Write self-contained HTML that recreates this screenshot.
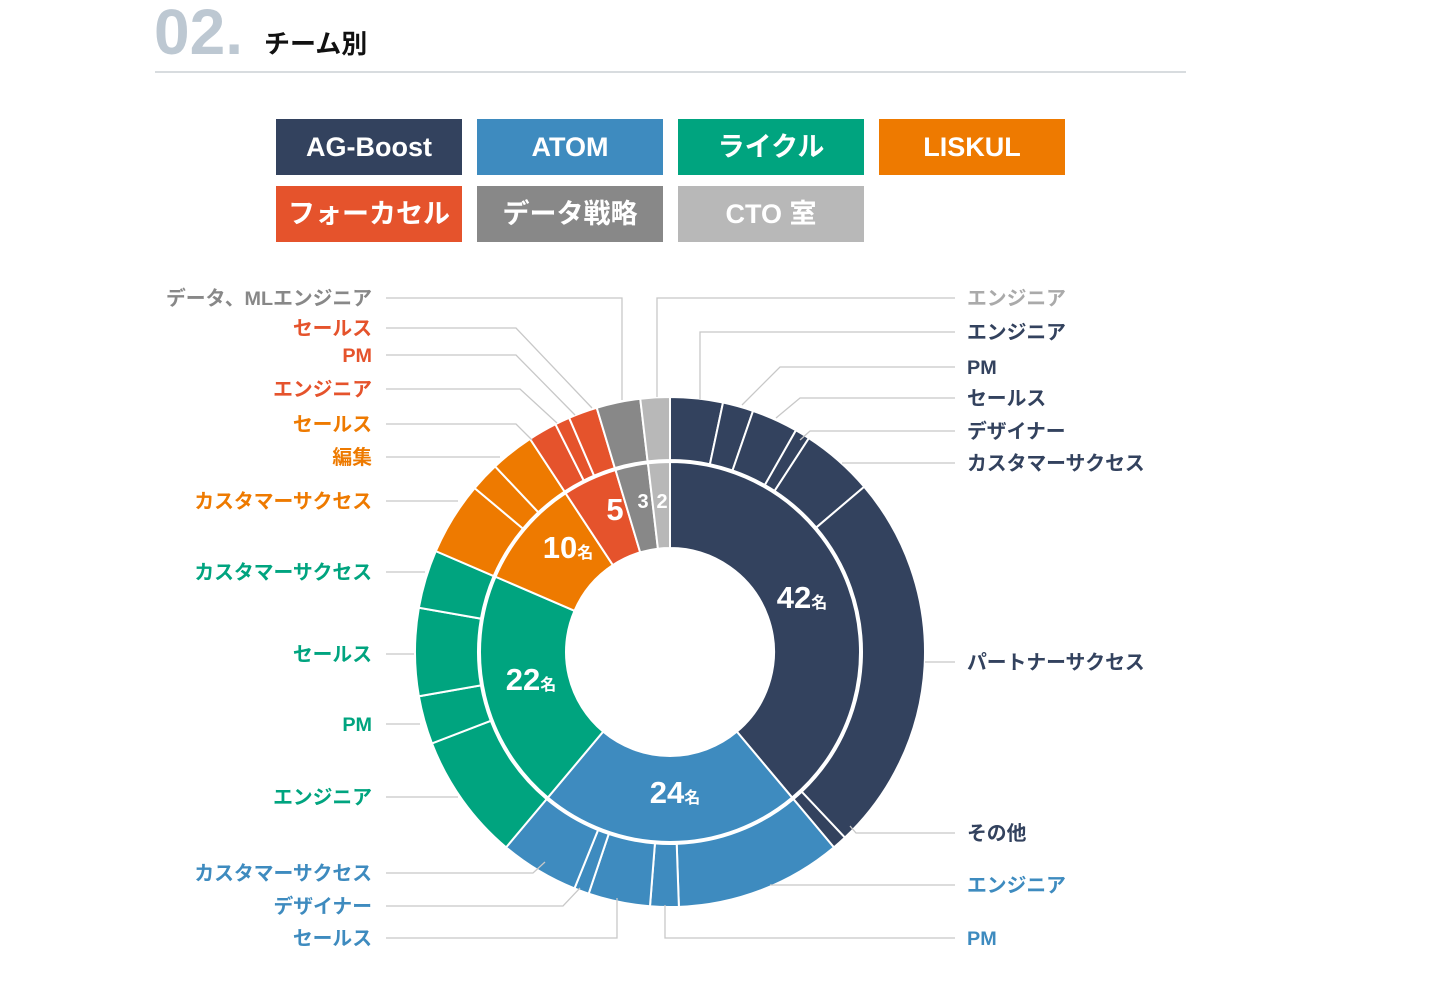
<!DOCTYPE html>
<html><head><meta charset="utf-8"><style>
body{margin:0;width:1440px;height:991px;background:#fff;overflow:hidden;font-family:"Liberation Sans","Noto Sans CJK JP",sans-serif}
.lg{position:absolute;width:186px;height:56px;color:#fff;font-weight:bold;font-size:27px;text-align:center;line-height:56px}
</style></head><body>
<div style="position:absolute;left:154px;top:-3px;font-size:64px;font-weight:bold;color:#bdc8d2;line-height:70px">02.</div>
<div style="position:absolute;left:264px;top:24px;font-size:26px;font-weight:bold;color:#111">チーム別</div>
<div style="position:absolute;left:155px;top:71px;width:1031px;height:2px;background:#d8dcdf"></div>
<div class="lg" style="left:276px;top:119px;background:#33425e">AG-Boost</div>
<div class="lg" style="left:477px;top:119px;background:#3e8bbf">ATOM</div>
<div class="lg" style="left:678px;top:119px;background:#00a47f">ライクル</div>
<div class="lg" style="left:879px;top:119px;background:#ee7a00">LISKUL</div>
<div class="lg" style="left:276px;top:186px;background:#e5532c">フォーカセル</div>
<div class="lg" style="left:477px;top:186px;background:#888888">データ戦略</div>
<div class="lg" style="left:678px;top:186px;background:#b8b8b8">CTO 室</div>
<svg id="s" width="1440" height="991" style="position:absolute;left:0;top:0" font-family="Liberation Sans, Noto Sans CJK JP, sans-serif"></svg>
<script>
var cx=670,cy=652,S=document.getElementById('s'),h='';
function pt(r,a){a=a*Math.PI/180;return [cx+r*Math.sin(a),cy-r*Math.cos(a)];}
function arc(r0,r1,a0,a1,c){var p=pt(r1,a0),q=pt(r1,a1),u=pt(r0,a1),v=pt(r0,a0),l=(a1-a0)>180?1:0;
h+='<path d="M'+p+'A'+r1+','+r1+' 0 '+l+' 1 '+q+'L'+u+'A'+r0+','+r0+' 0 '+l+' 0 '+v+'Z" fill="'+c+'" stroke="#fff" stroke-width="2"/>';}
var C={a:'#33425e',b:'#3e8bbf',g:'#00a47f',o:'#ee7a00',r:'#e5532c',d:'#888888',t:'#b8b8b8'};
var u=360/108;
var inner=[['a',42],['b',24],['g',22],['o',10],['r',5],['d',3],['t',2]],a=0;
inner.forEach(function(s){arc(104,190,a,a+s[1]*u,C[s[0]]);a+=s[1]*u;});
var outer=[['a',0,12],['a',12,19],['a',19,29.6],['a',29.6,33],['a',33,49.6],['a',49.6,136.7],['a',136.7,140],
['b',140,178],['b',178,184.5],['b',184.5,198.6],['b',198.6,202],['b',202,220],
['g',220,249],['g',249,260],['g',260,280],['g',280,293.3],
['o',293.3,310],['o',310,316.7],['o',316.7,326.7],['r',326.7,333.3],['r',333.3,336.7],['r',336.7,343.3],['d',343.3,353.3],['t',353.3,360]];
outer.forEach(function(s){arc(192,255,s[1],s[2],C[s[0]]);});
var L=[
[298,'データ、MLエンジニア','#888','L',[[622,298],[622,400]]],
[328,'セールス',C.r,'L',[[516,328],[592,408]]],
[355,'PM',C.r,'L',[[516,355],[575,415]]],
[389,'エンジニア',C.r,'L',[[520,389],[557,423]]],
[424,'セールス',C.o,'L',[[516,424],[532,440]]],
[457,'編集',C.o,'L',[[500,457]]],
[501,'カスタマーサクセス',C.o,'L',[[458,501]]],
[572,'カスタマーサクセス',C.g,'L',[[425,572]]],
[654,'セールス',C.g,'L',[[414,654]]],
[724,'PM',C.g,'L',[[420,724]]],
[797,'エンジニア',C.g,'L',[[458,797]]],
[873,'カスタマーサクセス',C.b,'L',[[533,873],[545,862]]],
[906,'デザイナー',C.b,'L',[[563,906],[580,888]]],
[938,'セールス',C.b,'L',[[617,938],[617,898]]],
[298,'エンジニア','#aaa','R',[[657,298],[657,397]]],
[332,'エンジニア',C.a,'R',[[700,332],[700,399]]],
[367,'PM',C.a,'R',[[780,367],[742,405]]],
[398,'セールス',C.a,'R',[[800,398],[776,418]]],
[431,'デザイナー',C.a,'R',[[810,431],[800,440]]],
[463,'カスタマーサクセス',C.a,'R',[[842,463]]],
[662,'パートナーサクセス',C.a,'R',[[925,662]]],
[833,'その他',C.a,'R',[[856,833],[850,826]]],
[885,'エンジニア',C.b,'R',[[770,885]]],
[938,'PM',C.b,'R',[[665,938],[665,905]]]];
L.forEach(function(l){var x0=l[3]=='L'?386:955,d='M'+x0+','+l[0];l[4].forEach(function(p){d+='L'+p[0]+','+p[1];});
h+='<path d="'+d+'" fill="none" stroke="#c8c8c8" stroke-width="1.3"/>';
h+='<text x="'+(l[3]=='L'?372:967)+'" y="'+(l[0]+7)+'" font-size="19.8" font-weight="bold" fill="'+l[2]+'" text-anchor="'+(l[3]=='L'?'end':'start')+'">'+l[1]+'</text>';});
function num(x,y,n,m){h+='<text x="'+x+'" y="'+y+'" font-size="31" font-weight="bold" fill="#fff" text-anchor="middle">'+n+(m?'<tspan font-size="16">名</tspan>':'')+'</text>';}
num(802,608,'42',1);num(675,803,'24',1);num(531,690,'22',1);num(568,558,'10',1);num(615,520,'5',0);
h+='<text x="643" y="508" font-size="20" font-weight="bold" fill="#fff" text-anchor="middle">3</text><text x="662" y="508" font-size="20" font-weight="bold" fill="#fff" text-anchor="middle">2</text>';
S.innerHTML=h;
</script>
</body></html>
